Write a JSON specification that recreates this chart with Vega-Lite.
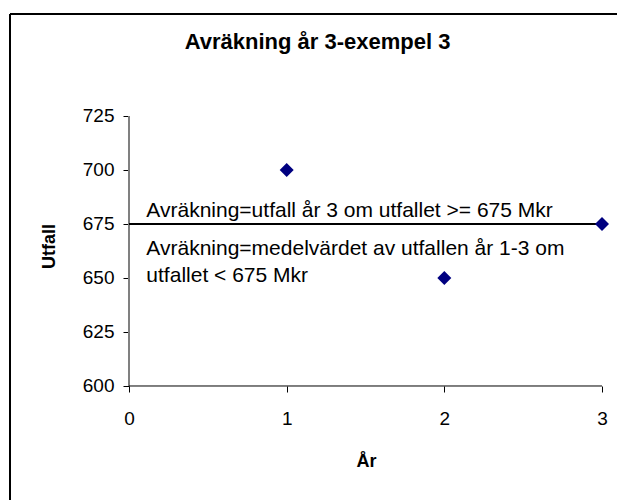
{
  "$schema": "https://vega.github.io/schema/vega-lite/v6.json",
  "autosize": {"type": "none"},
  "padding": {"left": 10, "top": 14, "right": 0, "bottom": 0},
  "width": 607,
  "height": 486,
  "background": "white",
  "config": {
    "font": "Liberation Sans",
    "view": {"stroke": null},
    "axis": {"grid": false, "domain": false, "labelColor": "#000000", "titleColor": "#000000", "tickColor": "#000000", "tickWidth": 1}
  },
  "title": {
    "text": "Avräkning år 3-exempel 3",
    "fontSize": 22,
    "fontWeight": "bold",
    "color": "#000000",
    "anchor": "middle",
    "frame": "group",
    "baseline": "alphabetic",
    "offset": 0,
    "dy": 58,
    "dx": 4
  },
  "datasets": {
    "points": [
      {"year": 1, "utfall": 700},
      {"year": 2, "utfall": 650},
      {"year": 3, "utfall": 675}
    ],
    "notes": [
      {"x": 0.11, "y": 678.2, "label": ["Avräkning=utfall år 3 om utfallet >= 675 Mkr"]},
      {"x": 0.11, "y": 660.6, "label": ["Avräkning=medelvärdet av utfallen år 1-3 om", "utfallet < 675 Mkr"]}
    ],
    "threshold": [{"x": 0, "x2": 3, "y": 675}],
    "guides": [{"xmin": 0, "xmax": 3, "ymin": 600, "ymax": 725}],
    "frame": [{"x": -0.7548, "x2": 3.0951, "y": 547.22, "y2": 772.22}]
  },
  "layer": [
    {
      "data": {"name": "frame"},
      "mark": {"type": "rule", "color": "#000000", "strokeWidth": 2},
      "encoding": {
        "x": {"field": "x", "type": "quantitative"},
        "y": {"field": "y", "type": "quantitative"},
        "y2": {"field": "y2"}
      }
    },
    {
      "data": {"name": "frame"},
      "mark": {"type": "rule", "color": "#000000", "strokeWidth": 2},
      "encoding": {
        "x": {"field": "x", "type": "quantitative"},
        "x2": {"field": "x2"},
        "y": {"field": "y2", "type": "quantitative"}
      }
    },
    {
      "data": {"name": "guides"},
      "mark": {"type": "rule", "color": "#808080", "strokeWidth": 2},
      "encoding": {
        "x": {"field": "xmin", "type": "quantitative"},
        "y": {"field": "ymin", "type": "quantitative"},
        "y2": {"field": "ymax"}
      }
    },
    {
      "data": {"name": "guides"},
      "mark": {"type": "rule", "color": "#000000", "strokeWidth": 1},
      "encoding": {
        "x": {"field": "xmin", "type": "quantitative"},
        "x2": {"field": "xmax"},
        "y": {"field": "ymin", "type": "quantitative"}
      }
    },
    {
      "data": {"name": "threshold"},
      "mark": {"type": "rule", "color": "#000000", "strokeWidth": 2},
      "encoding": {
        "x": {"field": "x", "type": "quantitative"},
        "x2": {"field": "x2"},
        "y": {"field": "y", "type": "quantitative"}
      }
    },
    {
      "data": {"name": "notes"},
      "mark": {"type": "text", "align": "left", "baseline": "alphabetic", "fontSize": 21, "lineHeight": 26.7, "color": "#000000"},
      "encoding": {
        "x": {"field": "x", "type": "quantitative"},
        "y": {"field": "y", "type": "quantitative"},
        "text": {"field": "label"}
      }
    },
    {
      "data": {"name": "points"},
      "mark": {"type": "point", "shape": "diamond", "filled": true, "size": 196, "color": "#000080", "opacity": 1},
      "encoding": {
        "x": {
          "field": "year", "type": "quantitative",
          "scale": {"domain": [-0.7548, 3.0951], "nice": false, "zero": false},
          "axis": {
            "orient": "bottom", "offset": -114, "values": [0, 1, 2, 3], "format": "d",
            "tickSize": 6, "labelPadding": 17, "labelFontSize": 19,
            "title": "År", "titleFontSize": 18, "titleFontWeight": "bold", "titleX": 356, "titlePadding": 24
          }
        },
        "y": {
          "field": "utfall", "type": "quantitative",
          "scale": {"domain": [547.22, 772.22], "nice": false, "zero": false},
          "axis": {
            "orient": "left", "offset": -119, "values": [600, 625, 650, 675, 700, 725], "format": "d",
            "tickSize": 6, "labelPadding": 9, "labelFontSize": 19,
            "title": "Utfall", "titleFontSize": 18, "titleFontWeight": "bold", "titleY": 232, "titlePadding": 24
          }
        }
      }
    }
  ]
}
